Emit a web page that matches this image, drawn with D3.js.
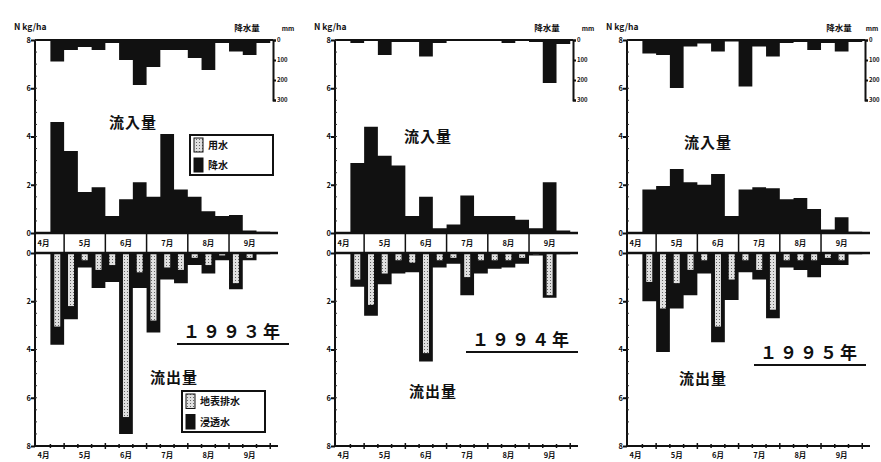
<!DOCTYPE html>
<html><head><meta charset="utf-8">
<script src="https://cdn.jsdelivr.net/npm/d3@7"></script>
<style>
body{margin:0;background:#fff}
svg{display:block}
text{font-family:"Noto Sans CJK JP","DejaVu Sans",sans-serif;font-weight:700;fill:#111}
</style>
</head><body>
<svg id="c" width="881" height="462"></svg>
<script>
// ---- data ----
const months = ["4月","5月","6月","7月","8月","9月"];
const periods = ["4月下旬","5月上旬","5月中旬","5月下旬","6月上旬","6月中旬","6月下旬",
  "7月上旬","7月中旬","7月下旬","8月上旬","8月中旬","8月下旬","9月上旬","9月中旬","9月下旬"];
const years = ["1993年","1994年","1995年"];
const inflowTicks = [0,2,4,6,8];
const outflowTicks = [0,2,4,6,8];
const rainTicks = [0,100,200,300];

// inflow N (kg/ha) per 10-day period
const inflow1993 = [4.6,3.4,1.7,1.9,0.7,1.4,2.1,1.5,4.1,1.8,1.5,0.9,0.7,0.75,0.1,0.05];
const inflow1994 = [2.9,4.4,3.2,2.8,0.7,1.5,0.2,0.35,1.55,0.7,0.7,0.7,0.55,0.2,2.1,0.1];
const inflow1995 = [1.8,1.95,2.65,2.1,2.0,2.45,0.7,1.8,1.9,1.85,1.4,1.45,1.0,0.15,0.65,0.05];
// rainfall (mm)
const rain1993 = [108,50,35,50,15,100,225,135,50,50,90,150,15,58,75,15];
const rain1994 = [15,5,75,10,10,83,15,5,5,5,5,15,5,10,215,20];
const rain1995 = [67,75,240,33,17,58,8,233,33,83,15,10,50,15,58,10];
// outflow total (浸透水 + 地表排水) and 地表排水 part
const outflow1993 = [3.8,2.75,0.6,1.45,1.2,7.5,1.45,3.3,1.1,1.25,0.5,0.85,0.3,1.5,0.3,0.05];
const surface1993 = [3.05,2.2,0.3,0.7,0.5,6.8,0.8,2.8,0.6,0.7,0.2,0.5,0.1,1.25,0.2,0];
const outflow1994 = [1.4,2.6,1.3,0.85,0.8,4.5,0.6,0.45,1.75,0.85,0.65,0.6,0.45,0.1,1.85,0.05];
const surface1994 = [1.1,2.15,0.85,0.3,0.4,4.15,0.3,0.2,1.0,0.3,0.3,0.3,0.2,0.05,1.75,0];
const outflow1995 = [2.0,4.1,2.3,1.75,0.85,3.7,1.95,0.8,1.1,2.7,0.6,0.7,1.0,0.5,0.5,0.05];
const surface1995 = [1.2,2.3,1.25,0.7,0.3,3.05,1.1,0.3,0.7,2.35,0.3,0.3,0.3,0.2,0.3,0];

const panelData = [
  {year: years[0], inflow: inflow1993, rain: rain1993, outflow: outflow1993, surface: surface1993},
  {year: years[1], inflow: inflow1994, rain: rain1994, outflow: outflow1994, surface: surface1994},
  {year: years[2], inflow: inflow1995, rain: rain1995, outflow: outflow1995, surface: surface1995}
];

// ---- layout ----
const offsets = [0, 300, 592];
const firstPeriod = 2; // periods counted in 旬 from April 1
const x = d3.scaleLinear().domain([0.88, 18.2]).range([35, 273]);
const yIn = d3.scaleLinear().domain([0, 8]).range([233, 40]);
const yOut = d3.scaleLinear().domain([0, 8]).range([253, 446]);
const yRain = d3.scaleLinear().domain([0, 300]).range([40, 100]);

const svg = d3.select("#c");
const defs = svg.append("defs");
const pat = defs.append("pattern").attr("id","dots").attr("width",3).attr("height",3)
  .attr("patternUnits","userSpaceOnUse");
pat.append("rect").attr("width",3).attr("height",3).attr("fill","#e0e0e0");
pat.append("rect").attr("x",1).attr("y",1).attr("width",1).attr("height",1).attr("fill","#666");

function stepPoints(vals){
  const pts = [];
  vals.forEach((v,i)=>{ const s = firstPeriod + i; pts.push([s, v]); pts.push([s+1, v]); });
  return pts;
}

const monthBounds = d3.range(0, 19, 3);
const tenDay = d3.range(0, 19, 1);

panelData.forEach((pd, pi) => {
  const g = svg.append("g").attr("transform", `translate(${offsets[pi]},0)`);

  g.append("path").datum(stepPoints(pd.rain))
    .attr("d", d3.area().x(d=>x(d[0])).y0(yRain(0)).y1(d=>yRain(d[1])))
    .attr("fill", "#111");

  g.append("path").datum(stepPoints(pd.inflow))
    .attr("d", d3.area().x(d=>x(d[0])).y0(yIn(0)).y1(d=>yIn(d[1])))
    .attr("fill", "#111");

  g.append("path").datum(stepPoints(pd.outflow))
    .attr("d", d3.area().x(d=>x(d[0])).y0(yOut(0)).y1(d=>yOut(d[1])))
    .attr("fill", "#111");
  g.selectAll("rect.surf").data(pd.surface).join("rect").attr("class","surf")
    .attr("x", (d,i)=>x(firstPeriod+i+0.5)-3)
    .attr("width", 6)
    .attr("y", yOut(0))
    .attr("height", d=>Math.max(0, yOut(d)-yOut(0)))
    .attr("fill", "url(#dots)");

  const xr = x.range();
  g.append("line").attr("x1",xr[0]).attr("x2",xr[1]).attr("y1",yIn(8)).attr("y2",yIn(8))
    .attr("stroke","#111").attr("stroke-width",2);
  g.append("line").attr("x1",xr[0]).attr("x2",xr[0]).attr("y1",yIn(8)).attr("y2",yOut(8))
    .attr("stroke","#111").attr("stroke-width",2);

  const axIn = d3.axisLeft(yIn).tickValues(inflowTicks).tickSize(4).tickFormat(d3.format("d"));
  const gIn = g.append("g").attr("transform",`translate(${xr[0]},0)`).call(axIn);
  const axOut = d3.axisLeft(yOut).tickValues(outflowTicks).tickSize(4).tickFormat(d3.format("d"));
  const gOut = g.append("g").attr("transform",`translate(${xr[0]},0)`).call(axOut);
  [gIn,gOut].forEach(a=>{
    a.attr("color","#111");
    a.select(".domain").remove();
    a.selectAll("line").attr("stroke","#111").attr("stroke-width",2);
    a.selectAll("text").attr("font-size",7.5).attr("x",-4).attr("fill","#111");
  });
  g.selectAll("line.minIn").data(d3.range(0,8.01,0.5)).join("line").attr("class","minIn")
    .attr("x1",xr[0]).attr("x2",xr[0]+2).attr("y1",d=>yIn(d)).attr("y2",d=>yIn(d))
    .attr("stroke","#333");
  g.selectAll("line.minOut").data(d3.range(0,8.01,0.5)).join("line").attr("class","minOut")
    .attr("x1",xr[0]).attr("x2",xr[0]+2).attr("y1",d=>yOut(d)).attr("y2",d=>yOut(d))
    .attr("stroke","#333");

  const axR = d3.axisRight(yRain).tickValues(rainTicks).tickSize(3);
  const gR = g.append("g").attr("transform",`translate(${xr[1]},0)`).attr("color","#111").call(axR);
  gR.select(".domain").attr("stroke","#111").attr("stroke-width",2);
  gR.selectAll("line").attr("stroke","#111").attr("stroke-width",2);
  gR.selectAll("text").attr("font-size",6).attr("x",4).attr("fill","#111");

  // month band
  g.append("line").attr("x1",xr[0]).attr("x2",xr[1]+5).attr("y1",yIn(0)).attr("y2",yIn(0))
    .attr("stroke","#111").attr("stroke-width",2.5);
  g.append("line").attr("x1",xr[0]).attr("x2",xr[1]+5).attr("y1",yOut(0)).attr("y2",yOut(0))
    .attr("stroke","#111").attr("stroke-width",2.5);
  g.selectAll("line.bandDiv").data(monthBounds.filter(d=>d>0 && d<18)).join("line").attr("class","bandDiv")
    .attr("x1",d=>x(d)).attr("x2",d=>x(d)).attr("y1",yIn(0)).attr("y2",yOut(0))
    .attr("stroke","#111").attr("stroke-width",1.5);
  g.selectAll("text.bandLab").data(months).join("text").attr("class","bandLab")
    .attr("x",(d,i)=>x(i*3+1.5)).attr("y",(yIn(0)+yOut(0))/2+3)
    .attr("text-anchor","middle").attr("font-size",7.5).text(d=>d);

  // bottom axis
  g.append("line").attr("x1",xr[0]).attr("x2",xr[1]+5).attr("y1",yOut(8)).attr("y2",yOut(8))
    .attr("stroke","#111").attr("stroke-width",2);
  g.selectAll("line.bt").data(tenDay.filter(d=>x(d)>xr[0]+2)).join("line").attr("class","bt")
    .attr("x1",d=>x(d)).attr("x2",d=>x(d))
    .attr("y1",d=>yOut(8)-(d%3===0?3:2)).attr("y2",d=>yOut(8)+(d%3===0?3:2))
    .attr("stroke","#111").attr("stroke-width",1.5);
  g.selectAll("text.bl").data(months).join("text").attr("class","bl")
    .attr("x",(d,i)=>x(i*3+1.5)).attr("y",yOut(8)+12)
    .attr("text-anchor","middle").attr("font-size",7.5).text(d=>d);

  // titles
  g.append("text").attr("x",14).attr("y",30).attr("font-size",8.5).text("N kg/ha");
  g.append("text").attr("x",247).attr("y",31).attr("text-anchor","middle").attr("font-size",8.5).text("降水量");
  g.append("text").attr("x",pi===2?288-8:288).attr("y",31).attr("text-anchor","middle").attr("font-size",6.5).text("mm");
});

// in-chart labels
const inLabelPos = [[133,123],[428,137],[708,143]];
const outLabelPos = [[174,378],[433,392],[703,379]];
const yearPos = [[233,338,342],[522,346,350],[810,359,363]];
panelData.forEach((pd,pi)=>{
  svg.append("text").attr("x",inLabelPos[pi][0]).attr("y",inLabelPos[pi][1]+5)
    .attr("text-anchor","middle").attr("font-size",15).attr("letter-spacing",1).text("流入量");
  svg.append("text").attr("x",outLabelPos[pi][0]).attr("y",outLabelPos[pi][1]+5)
    .attr("text-anchor","middle").attr("font-size",15).attr("letter-spacing",1).text("流出量");
  const [yx, yy, uy] = yearPos[pi];
  const digits = pd.year.replace(/[0-9]/g, c=>String.fromCharCode(c.charCodeAt(0)+0xFEE0));
  svg.append("text").attr("x",yx).attr("y",yy).attr("text-anchor","middle")
    .attr("font-size",17).attr("letter-spacing",3).text(digits);
  svg.append("line").attr("x1",yx-56).attr("x2",yx+56).attr("y1",uy+2).attr("y2",uy+2)
    .attr("stroke","#111").attr("stroke-width",2);
});

function legend(x0,y0,w,h,items){
  const g = svg.append("g");
  g.append("rect").attr("x",x0).attr("y",y0).attr("width",w).attr("height",h)
    .attr("fill","#fff").attr("stroke","#111").attr("stroke-width",2);
  const rh = h/items.length;
  items.forEach((it,i)=>{
    g.append("rect").attr("x",x0+4).attr("y",y0+i*rh+3).attr("width",9).attr("height",rh-6)
      .attr("fill",it.fill).attr("stroke","#111").attr("stroke-width",1);
    g.append("text").attr("x",x0+18).attr("y",y0+i*rh+rh/2+4).attr("font-size",10).text(it.label);
  });
}
legend(190,135,83,40,[{label:"用水",fill:"url(#dots)"},{label:"降水",fill:"#111"}]);
legend(182,391,83,41,[{label:"地表排水",fill:"url(#dots)"},{label:"浸透水",fill:"#111"}]);
</script>
</body></html>
